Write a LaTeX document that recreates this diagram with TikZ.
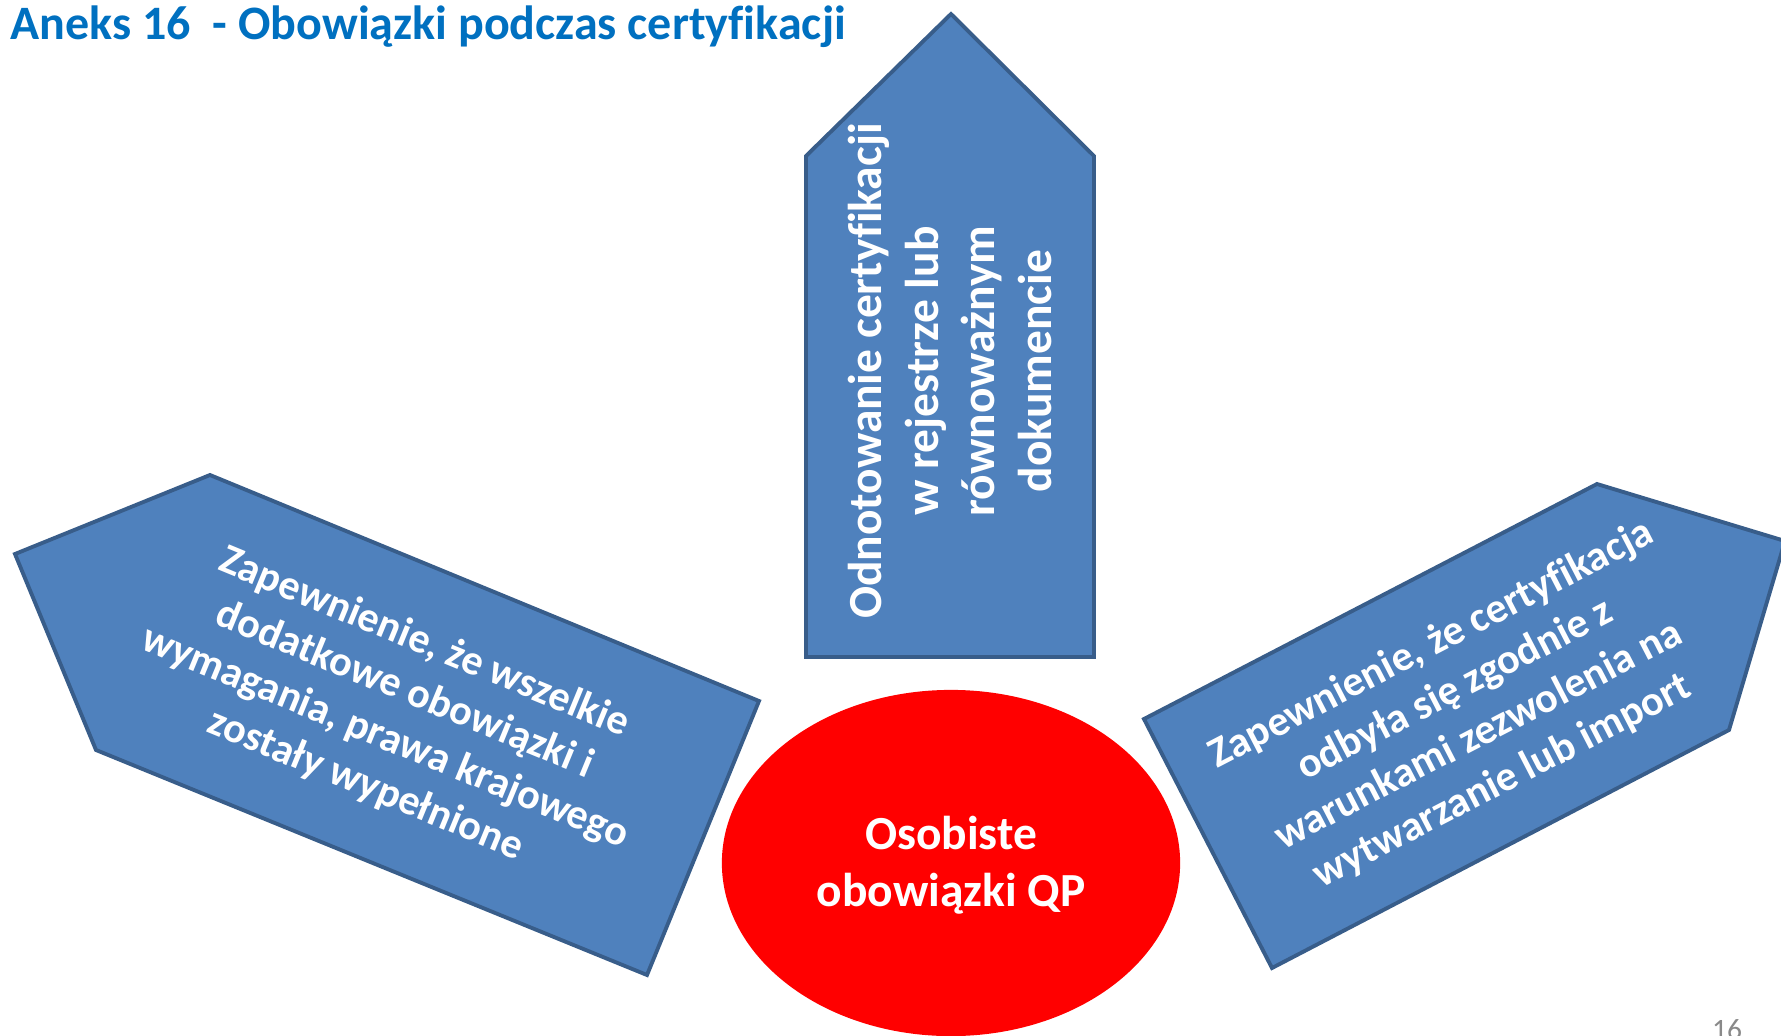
\documentclass[tikz,border=0pt]{standalone}
\usepackage{fontspec}
\setmainfont{Carlito}[Ligatures=CommonOff]
\usepackage{tikz}
\definecolor{dutyfill}{RGB}{79,129,189}
\definecolor{dutyline}{RGB}{56,93,138}
\definecolor{qpred}{RGB}{255,0,0}
\definecolor{titleblue}{RGB}{0,112,192}
\definecolor{pagegray}{RGB}{137,137,137}

\begin{document}
\begin{tikzpicture}[x=0.01cm,y=0.01cm,
  duty/.style={fill=dutyfill,draw=dutyline,line width=1.1pt,line join=miter},
  dutytext/.style={text=white,align=center,inner sep=0pt,
    font=\fontsize{13.5}{16.2}\selectfont\bfseries},
  sidetext/.style={dutytext,font=\fontsize{12}{14.6}\selectfont\bfseries}]
  \useasboundingbox (0,0) rectangle (1781,1035);
  \clip (0,0) rectangle (1781,1035);
  \node[anchor=base west,text=titleblue,inner sep=0pt,
        font=\fontsize{13.65}{16}\selectfont\bfseries] (title) at (10,995)
        {Aneks 16\ \ - Obowiązki podczas certyfikacji};
  \draw[duty] (806,378) -- (806,879) -- (951,1021) -- (1094,879) -- (1094,378) -- cycle;
  \draw[duty] (15,481) -- (210,560) -- (759,334) -- (647,60) -- (96,285) -- cycle;
  \draw[duty] (1144,316) -- (1597,551) -- (1785,494) -- (1729,305) -- (1272,67) -- cycle;
  \fill[qpred] (951,172) ellipse (2.29cm and 1.73cm);
  \node[dutytext,rotate=90] (record) at (950,664)
        {Odnotowanie certyfikacji\\w rejestrze lub\\równoważnym\\dokumencie};
  \node[sidetext,rotate=-22.4] (national) at (395,321)
        {Zapewnienie, że wszelkie\\dodatkowe obowiązki i\\wymagania, prawa krajowego\\zostały wypełnione};
  \node[sidetext,rotate=27.4] (licence) at (1467,322)
        {Zapewnienie, że certyfikacja\\odbyła się zgodnie z\\warunkami zezwolenia na\\wytwarzanie lub import};
  \node[dutytext] (qp) at (951,170) {Osobiste\\obowiązki QP};
  \node[anchor=base,text=pagegray,inner sep=0pt,
        font=\fontsize{8.4}{10}\selectfont] (pagenum) at (1727,-4) {16};
\end{tikzpicture}
\end{document}
